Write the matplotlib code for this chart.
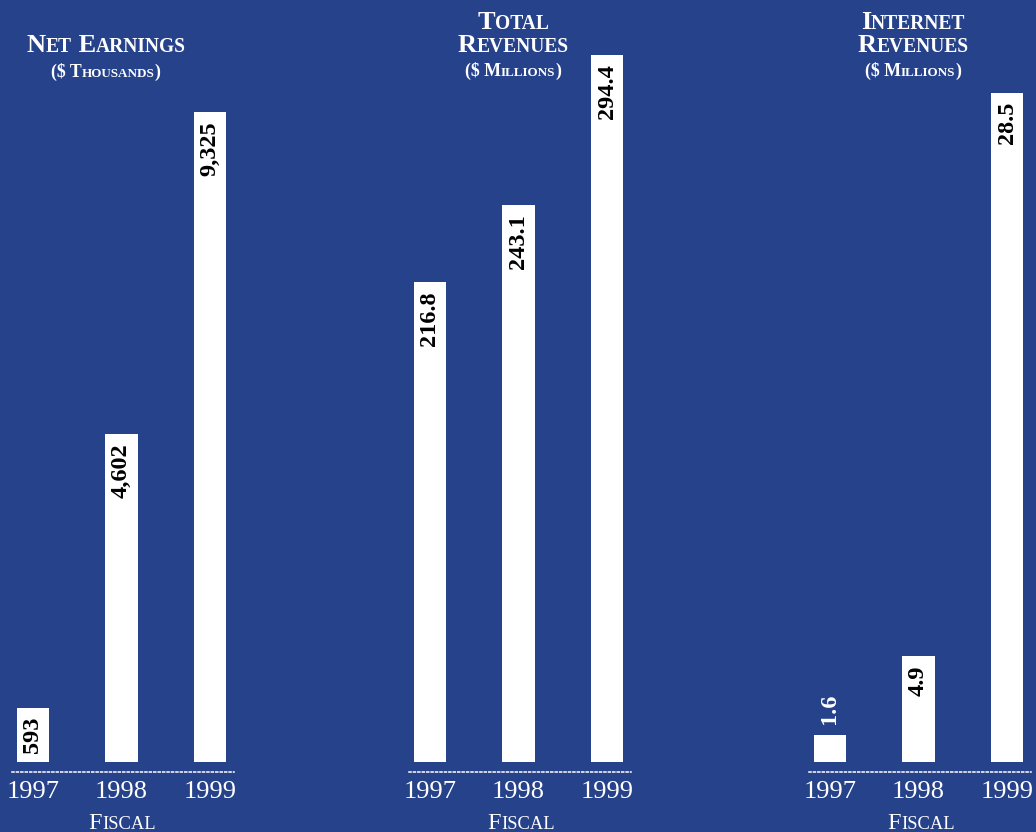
import matplotlib
matplotlib.use("Agg")
import matplotlib.pyplot as plt

years = ["1997", "1998", "1999"]
net_earnings = [593, 4602, 9325]
total_revenues = [216.8, 243.1, 294.4]
internet_revenues = [1.6, 4.9, 28.5]
earn_labels = ["593", "4,602", "9,325"]
total_labels = ["216.8", "243.1", "294.4"]
inet_labels = ["1.6", "4.9", "28.5"]

BG = "#26428a"
W, H = 1036, 832
SERIF = "Liberation Serif"

fig = plt.figure(figsize=(W / 100, H / 100), dpi=100, facecolor=BG)
renderer = fig.canvas.get_renderer()


def smallcaps(x, y, text, size, weight="bold", ratio=0.74):
    # fake small caps: capitals at full size, lower case as smaller capitals
    runs = []
    for ch in text:
        small = ch.islower()
        if runs and runs[-1][1] == small:
            runs[-1][0] += ch
        else:
            runs.append([ch, small])
    pieces = []
    total = 0
    for s, small in runs:
        t = fig.text(0, 0, s.upper(), fontsize=size * ratio if small else size,
                     fontfamily=SERIF, fontweight=weight, color="white",
                     va="baseline", ha="left")
        w = t.get_window_extent(renderer).width
        pieces.append((t, w))
        total += w
    cx = x - total / 2
    for t, w in pieces:
        t.set_position((cx / W, 1 - y / H))
        cx += w


def panel(left, values, labels, ylim):
    ax = fig.add_axes([left / W, 70 / H, 222 / W, 722 / H])
    ax.set_facecolor("none")
    base = ylim[0]
    xs = range(len(values))
    ax.bar(xs, [v - base for v in values], bottom=base, width=0.362,
           color="white", zorder=2)
    ax.set_xlim(-0.237, 2.271)
    ax.set_ylim(*ylim)
    for x, v, lab in zip(xs, values, labels):
        frac = (v - base) / (ylim[1] - base)
        if frac < 0.05:
            # bar too short: label sits above it
            ax.annotate(lab, (x, v), xytext=(0, 8), textcoords="offset points",
                        rotation=90, ha="center", va="bottom", color="white",
                        fontsize=17.5, fontweight="bold", fontfamily=SERIF)
        else:
            ax.annotate(lab, (x, v), xytext=(0, -6.5), textcoords="offset points",
                        rotation=90, ha="center", va="top", color="black",
                        fontsize=17.5, fontweight="bold", fontfamily=SERIF)
    for s in ["left", "right", "top"]:
        ax.spines[s].set_visible(False)
    sp = ax.spines["bottom"]
    sp.set_position(("outward", 7.2))
    sp.set_color("white")
    sp.set_linewidth(1.1)
    sp.set_linestyle((0, (1.3, 1.6)))
    ax.set_yticks([])
    ax.set_xticks(list(xs))
    ax.set_xticklabels(years, fontfamily=SERIF, fontsize=19, color="white")
    ax.tick_params(axis="x", length=0, pad=6.5)
    return ax


panel(12, net_earnings, earn_labels, (-198, 10380))
panel(409, total_revenues, total_labels, (53.0, 299.6))
panel(809, internet_revenues, inet_labels, (0.47, 30.7))

smallcaps(106, 52, "Net Earnings", 19)
smallcaps(106, 77, "($ Thousands)", 12.8)

smallcaps(513, 29, "Total", 19)
smallcaps(513, 52, "Revenues", 19)
smallcaps(513, 76, "($ Millions)", 12.8)

smallcaps(913, 29, "Internet", 19)
smallcaps(913, 52, "Revenues", 19)
smallcaps(913, 76, "($ Millions)", 12.8)

for cx in [122, 521, 921]:
    smallcaps(cx, 829, "Fiscal", 17.5, weight="normal", ratio=0.76)

fig.savefig("out.png", dpi=100, facecolor=BG)
